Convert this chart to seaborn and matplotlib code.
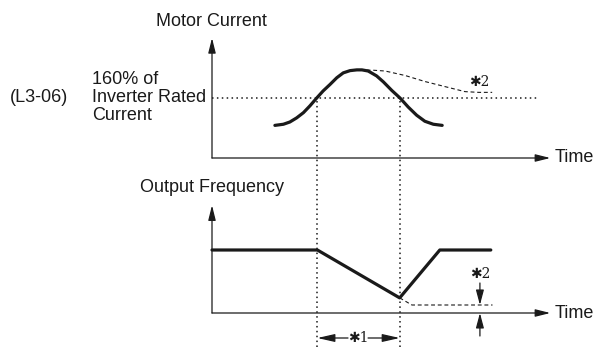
import matplotlib
matplotlib.use("Agg")
import matplotlib.pyplot as plt
import seaborn as sns
import pandas as pd

# time in arbitrary units, current in % of inverter rated current, frequency in % of set frequency
cur_time = [18.5, 21.0, 22.9, 24.9, 26.9, 28.8, 30.8, 32.7, 34.7, 36.7, 38.6, 40.6, 42.6, 44.1,
            45.9, 46.5, 48.4, 50.4, 52.9, 55.3, 57.7, 60.2, 62.6, 65.1, 67.7]
cur_vals = [87, 90, 96, 107, 121, 139, 160, 179, 196, 214, 227, 233, 235, 235,
            232, 229, 219, 203, 180, 160, 136, 114, 98, 90, 87]

# current if stall prevention did not act (*2)
stall_time = [43.5, 47.5, 50.9, 56.8, 62.6, 70.0, 74.4, 78.5, 82.4]
stall_vals = [235, 234, 232, 220, 204, 187, 177, 175, 175]

freq_time = [0, 31, 55.2, 67, 82]
freq_vals = [100, 100, 24, 100, 100]

freq_stall_time = [55.2, 58.8, 82.5]
freq_stall_vals = [24, 12.7, 12.7]

threshold = 160            # L3-06
cross_times = [31, 55.2]   # current crosses the threshold
t_end = 99.5

W, H = 597, 349
T0_PX, PX_PER_T = 212, 3.4
TOP_BASE, TOP_SCALE = 158, 60 / 160
BOT_BASE, BOT_SCALE = 313, 0.63

sns.set_style("white")
plt.rcParams['font.family'] = ['Liberation Sans', 'DejaVu Sans']
ink = '#1a1a1a'
star_font = ['DejaVu Serif', 'DejaVu Sans']

fig = plt.figure(figsize=(W / 100, H / 100), dpi=100)
ax_top = fig.add_axes([0, 0, 1, 1])
ax_bot = fig.add_axes([0, 0, 1, 1])
xlim = (-T0_PX / PX_PER_T, (W - T0_PX) / PX_PER_T)
ax_top.set_xlim(xlim)
ax_bot.set_xlim(xlim)
ax_top.set_ylim(-(H - TOP_BASE) / TOP_SCALE, TOP_BASE / TOP_SCALE)
ax_bot.set_ylim(-(H - BOT_BASE) / BOT_SCALE, BOT_BASE / BOT_SCALE)
for ax in (ax_top, ax_bot):
    ax.axis('off')
    ax.patch.set_alpha(0)


def arrow(ax, start, end, ms=15, hl=0.6, hw=0.15, lw=0.9):
    ax.annotate('', xy=end, xytext=start,
                arrowprops=dict(arrowstyle=f'-|>,head_length={hl},head_width={hw}',
                                mutation_scale=ms, lw=lw, color=ink,
                                shrinkA=0, shrinkB=0))


# axes with arrow heads
arrow(ax_top, (0, 0), (t_end, 0))
arrow(ax_top, (0, 0), (0, 320))
arrow(ax_bot, (0, 0), (t_end, 0))
arrow(ax_bot, (0, 0), (0, 171))

# threshold and guide lines
ax_top.plot([0, 96.2], [threshold, threshold], color=ink, lw=1.1, ls=(0, (1, 2.2)))
ax_top.vlines(cross_times, -(H - 2 - TOP_BASE) / TOP_SCALE, threshold,
              color=ink, lw=1.1, ls=(0, (1, 2.2)))

# curves
sns.lineplot(x=cur_time, y=cur_vals, ax=ax_top, color=ink, lw=2.3, sort=False, estimator=None)
sns.lineplot(x=stall_time, y=stall_vals, ax=ax_top, color=ink, lw=0.8,
             ls=(0, (3.5, 2.5)), sort=False, estimator=None)
sns.lineplot(x=freq_time, y=freq_vals, ax=ax_bot, color=ink, lw=2.3, sort=False, estimator=None)
sns.lineplot(x=freq_stall_time, y=freq_stall_vals, ax=ax_bot, color=ink, lw=0.8,
             ls=(0, (3.5, 2.5)), sort=False, estimator=None)

# *1 : deceleration time
y1 = (BOT_BASE - 338) / BOT_SCALE
arrow(ax_bot, (40, y1), (cross_times[0], y1), ms=14, hl=0.75, hw=0.17)
arrow(ax_bot, (45.9, y1), (cross_times[1], y1), ms=14, hl=0.75, hw=0.17)
ax_bot.text(43, y1, '✱1', ha='center', va='center', fontsize=10,
            family=star_font, color=ink)

# *2 : frequency drop
t2 = 78.8
arrow(ax_bot, (t2, (BOT_BASE - 283) / BOT_SCALE), (t2, freq_stall_vals[-1]), ms=12, hl=0.75, hw=0.2)
arrow(ax_bot, (t2, (BOT_BASE - 336) / BOT_SCALE), (t2, 0), ms=12, hl=0.75, hw=0.2)
ax_bot.text(t2, (BOT_BASE - 274) / BOT_SCALE, '✱2', ha='center', va='center', fontsize=10,
            family=star_font, color=ink)
ax_top.text(78.5, (TOP_BASE - 82) / TOP_SCALE, '✱2', ha='center', va='center', fontsize=10,
            family=star_font, color=ink)


def label(x, y, s, ha='left'):
    fig.text(x / W, 1 - y / H, s, ha=ha, va='center', fontsize=13, color=ink)


label(211.5, 22, 'Motor Current', ha='center')
label(211.5, 188, 'Output Frequency', ha='center')
label(92, 79, '160% of')
label(92, 98, 'Inverter Rated')
label(92, 116, 'Current')
label(10, 98, '(L3-06)')
label(555, 158, 'Time')
label(555, 313, 'Time')

fig.savefig('out.png', dpi=100)
plt.close(fig)
